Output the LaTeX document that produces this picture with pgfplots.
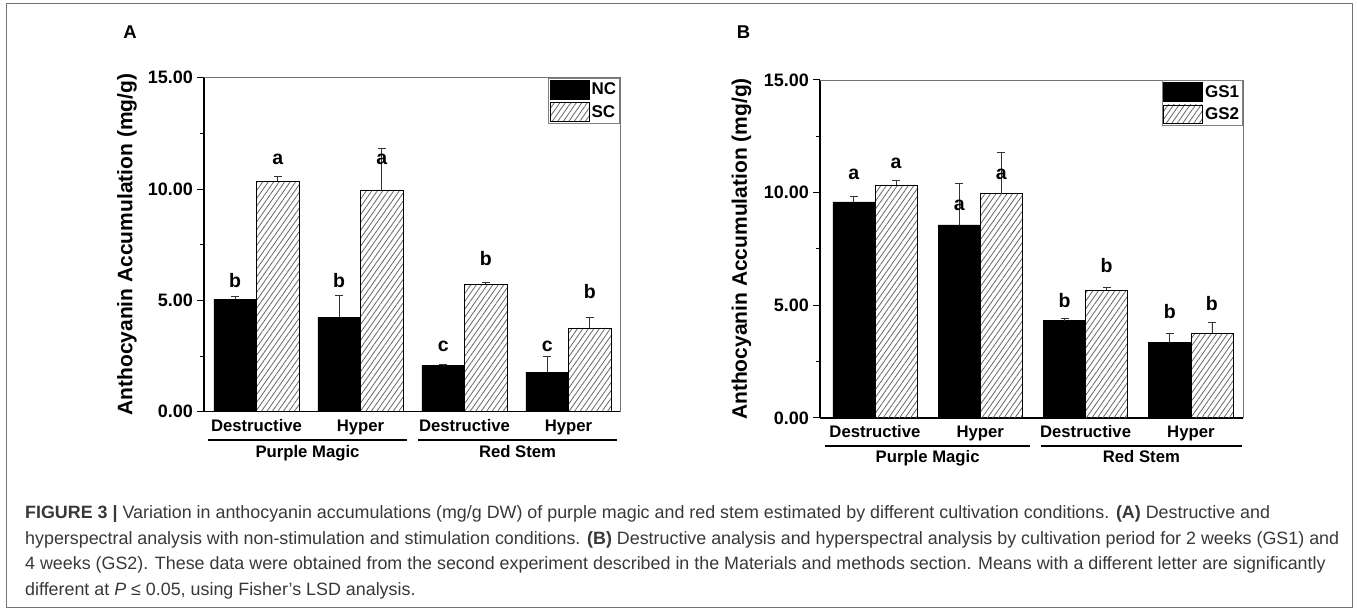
\documentclass[border=0pt]{standalone}
\usepackage{pgfplots}
\usepackage{pgfplotstable}
\pgfplotsset{compat=1.18}
\usepackage{fontspec}
\setmainfont{Liberation Sans}
\usetikzlibrary{patterns.meta}
\newlength\capw

% A: non-stimulation (NC) vs stimulation (SC); *e = error, *t = top of error bar
\pgfplotstableread{
xn xs nc nce nct sc sce sct
0.795 1.205 5.06 0.10 5.16 10.35 0.20 10.55
1.795 2.205 4.24 0.96 5.20 9.96 1.84 11.80
2.795 3.205 2.07 0.07 2.14 5.72 0.09 5.81
3.795 4.205 1.78 0.69 2.47 3.76 0.48 4.24
}\dataA
% B: 2 weeks (GS1) vs 4 weeks (GS2)
\pgfplotstableread{
xn xs gs1 gs1e gs1t gs2 gs2e gs2t
0.8 1.2 9.59 0.23 9.82 10.34 0.21 10.55
1.8 2.2 8.57 1.86 10.43 9.96 1.83 11.79
2.8 3.2 4.32 0.11 4.43 5.68 0.10 5.78
3.8 4.2 3.34 0.42 3.76 3.76 0.46 4.22
}\dataB

\pgfplotsset{
  panel/.style={
    scale only axis, anchor=south west, clip=false,
    axis x line*=bottom, axis y line*=left,
    axis line style={line width=1.3pt, black},
    ymin=0, ymax=15,
    ytick={0,5,10,15}, yticklabels={0.00,5.00,10.00,15.00},
    minor ytick={2.5,7.5,12.5},
    tick align=outside, major tick length=7pt, minor tick length=4pt,
    ytick style={line width=1pt, black},
    minor tick style={line width=1pt, black},
    xtick={1,2,3,4}, xticklabels={Destructive,Hyper,Destructive,Hyper},
    xtick style={draw=none},
    yticklabel style={font=\bfseries\fontsize{18}{20}\selectfont, inner sep=0pt, xshift=-4pt},
    xticklabel style={font=\bfseries\fontsize{16.7}{18}\selectfont, anchor=base, yshift=-12.8pt},
    legend style={at={(1,1)}, anchor=north east, draw=black!50, line width=0.8pt,
      font=\bfseries\fontsize{17}{18}\selectfont, inner xsep=1.5pt, inner ysep=2pt, row sep=3pt},
    legend cell align=left,
  },
  solidbar/.style={ybar, bar shift=0pt, fill=black, draw=black, line width=0.6pt,
    legend image code/.code={\draw[##1, draw=black, line width=0.6pt] (0pt,-9.3pt) rectangle (39pt,9.3pt);}},
  hatchbar/.style={ybar, bar shift=0pt, draw=black, line width=0.6pt,
    pattern={Lines[angle=55, distance=4.5pt, line width=0.8pt]}, pattern color=black!60,
    legend image code/.code={\draw[##1, draw=black, line width=0.6pt] (0pt,-9.3pt) rectangle (39pt,9.3pt);}},
  errs/.style={error bars/.cd, y dir=plus, y explicit,
    error mark=none,
    error bar style={line width=0.9pt, color=black!80, solid}},
  caps/.style={only marks, mark=-, mark size=4pt, mark options={line width=0.9pt, draw=black!80, solid}},
  letters/.style={draw=none, mark=none, nodes near coords, point meta=explicit symbolic,
    nodes near coords style={anchor=base, inner sep=0pt, text=black, font=\bfseries\fontsize{19.5}{20}\selectfont}},
}

\begin{document}%
\settowidth\capw{\fontsize{10}{12}\selectfont hyperspectral analysis with non-stimulation and stimulation conditions. \textbf{(B)} Destructive analysis and hyperspectral analysis by cultivation period for 2 weeks (GS1) and}%
\pgfmathsetmacro\capfs{10*1314/\capw}%
\begin{tikzpicture}[x=1pt, y=1pt]
\path[use as bounding box] (0pt,0pt) rectangle (1357pt,612pt);
\draw[black!55, line width=1pt] (6pt,4pt) rectangle (1352pt,608pt);

% panel letters
\node[font=\bfseries\fontsize{18.5}{20}\selectfont] at (130pt,580.3pt) {A};
\node[font=\bfseries\fontsize{18.5}{20}\selectfont] at (743.6pt,580.3pt) {B};

% ---------------- Panel A
\begin{axis}[panel, at={(204pt,200.3pt)}, width=416pt, height=334pt,
  xmin=0.495, xmax=4.495]
\addplot[solidbar, bar width=0.41, errs] table[x=xn, y=nc, y error=nce] {\dataA};
\addlegendentry{NC}
\addplot[hatchbar, bar width=0.41, errs] table[x=xs, y=sc, y error=sce] {\dataA};
\addlegendentry{SC}
\addplot[caps] table[x=xn, y=nct] {\dataA};
\addplot[caps] table[x=xs, y=sct] {\dataA};
\addplot[letters] coordinates {
 (0.795,5.59) [b] (1.205,11.08) [a]
 (1.795,5.59) [b] (2.205,11.08) [a]
 (2.795,2.69) [c] (3.205,6.56) [b]
 (3.795,2.69) [c] (4.205,5.09) [b]
};
\draw[black!55, line width=0.8pt] (rel axis cs:0,1) -- (rel axis cs:1,1) -- (rel axis cs:1,0);
\node[rotate=90, font=\bfseries\fontsize{21}{24}\selectfont] at ([xshift=-77pt]rel axis cs:0,0.5) {Anthocyanin Accumulation (mg/g)};
\draw[line width=2pt] ([yshift=-28.3pt]axis cs:0.533,0) -- ([yshift=-28.3pt]axis cs:2.447,0);
\draw[line width=2pt] ([yshift=-28.3pt]axis cs:2.553,0) -- ([yshift=-28.3pt]axis cs:4.466,0);
\node[anchor=base, font=\bfseries\fontsize{16.7}{18}\selectfont] at ([yshift=-45.8pt]axis cs:1.49,0) {Purple Magic};
\node[anchor=base, font=\bfseries\fontsize{16.7}{18}\selectfont] at ([yshift=-45.8pt]axis cs:3.51,0) {Red Stem};
\end{axis}

% ---------------- Panel B
\begin{axis}[panel, at={(820pt,194pt)}, width=423pt, height=338pt,
  xmin=0.478, xmax=4.495]
\addplot[solidbar, bar width=0.4, errs] table[x=xn, y=gs1, y error=gs1e] {\dataB};
\addlegendentry{GS1}
\addplot[hatchbar, bar width=0.4, errs] table[x=xs, y=gs2, y error=gs2e] {\dataB};
\addlegendentry{GS2}
\addplot[caps] table[x=xn, y=gs1t] {\dataB};
\addplot[caps] table[x=xs, y=gs2t] {\dataB};
\addplot[letters] coordinates {
 (0.8,10.6) [a] (1.2,11.09) [a]
 (1.8,9.2) [a] (2.2,10.6) [a]
 (2.8,4.92) [b] (3.2,6.47) [b]
 (3.8,4.41) [b] (4.2,4.75) [b]
};
\draw[black!55, line width=0.8pt] (rel axis cs:0,1) -- (rel axis cs:1,1) -- (rel axis cs:1,0);
\node[rotate=90, font=\bfseries\fontsize{21}{24}\selectfont] at ([xshift=-78.5pt]rel axis cs:0,0.5) {Anthocyanin Accumulation (mg/g)};
\draw[line width=2pt] ([yshift=-27.7pt]axis cs:0.525,0) -- ([yshift=-27.7pt]axis cs:2.472,0);
\draw[line width=2pt] ([yshift=-27.7pt]axis cs:2.576,0) -- ([yshift=-27.7pt]axis cs:4.485,0);
\node[anchor=base, font=\bfseries\fontsize{16.7}{18}\selectfont] at ([yshift=-45pt]axis cs:1.5,0) {Purple Magic};
\node[anchor=base, font=\bfseries\fontsize{16.7}{18}\selectfont] at ([yshift=-45pt]axis cs:3.53,0) {Red Stem};
\end{axis}

% ---------------- Caption
\begin{scope}[every node/.style={anchor=base west, inner sep=0pt, text=black!78, font=\fontsize{\capfs}{\capfs}\selectfont}]
\node at (25pt,93pt) {\textbf{FIGURE 3 |} Variation in anthocyanin accumulations (mg/g DW) of purple magic and red stem estimated by different cultivation conditions. \textbf{(A)} Destructive and};
\node at (25pt,67.5pt) {hyperspectral analysis with non-stimulation and stimulation conditions. \textbf{(B)} Destructive analysis and hyperspectral analysis by cultivation period for 2 weeks (GS1) and};
\node at (25pt,42pt) {4 weeks (GS2). These data were obtained from the second experiment described in the Materials and methods section. Means with a different letter are significantly};
\node at (25pt,16.5pt) {different at \textit{P} ≤ 0.05, using Fisher’s LSD analysis.};
\end{scope}
\end{tikzpicture}%
\end{document}
